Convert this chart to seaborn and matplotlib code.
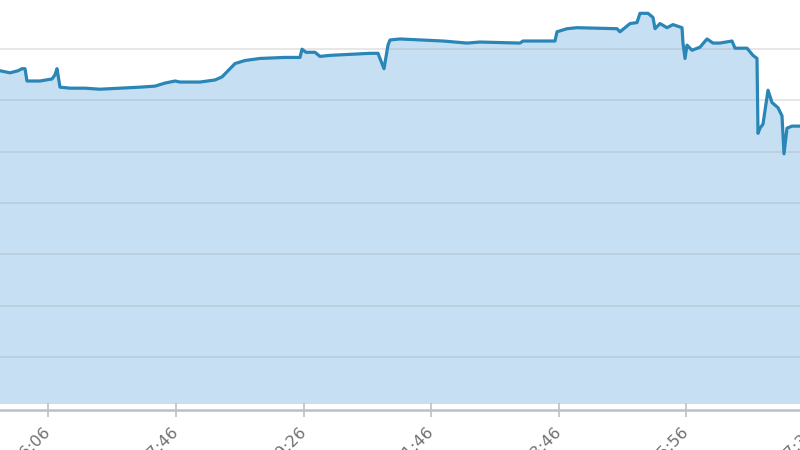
import matplotlib
matplotlib.use("Agg")
import matplotlib.pyplot as plt
import seaborn as sns
import pandas as pd

# sample index along the session
sample = [0, 10, 18, 22, 25, 27, 40, 52, 55, 57, 60, 70, 85, 100, 120, 140, 155, 165,
          175, 180, 200, 215, 222, 228, 235, 245, 260, 285, 300, 302, 306, 315, 320,
          330, 350, 370, 378, 380, 384, 388, 390, 400, 443, 467, 480, 520, 523, 555,
          557, 567, 577, 617, 620, 630, 637, 640, 648, 653, 655, 660, 667, 673, 682,
          683, 685, 687, 692, 700, 707, 713, 720, 732, 735, 747, 753, 757, 758, 760,
          763, 768, 772, 778, 782, 784, 787, 792, 800, 815]
price = [33.29, 33.27, 33.29, 33.31, 33.31, 33.19, 33.19, 33.21, 33.25, 33.31, 33.13,
         33.12, 33.12, 33.11, 33.12, 33.13, 33.14, 33.17, 33.19, 33.18, 33.18, 33.20,
         33.23, 33.29, 33.36, 33.39, 33.41, 33.42, 33.42, 33.50, 33.47, 33.47, 33.43,
         33.44, 33.45, 33.46, 33.46, 33.41, 33.31, 33.54, 33.59, 33.60, 33.58, 33.56,
         33.57, 33.56, 33.58, 33.58, 33.67, 33.70, 33.71, 33.70, 33.67, 33.75, 33.76,
         33.85, 33.85, 33.81, 33.70, 33.75, 33.71, 33.74, 33.71, 33.56, 33.41, 33.54,
         33.49, 33.52, 33.60, 33.56, 33.56, 33.58, 33.51, 33.51, 33.44, 33.41, 32.68,
         32.73, 32.77, 33.10, 32.98, 32.93, 32.85, 32.48, 32.73, 32.75, 32.75, 32.75]

tick_pos = [48, 176, 304, 431, 559, 686, 813]
tick_labels = ["10:06:06", "10:07:46", "10:09:26", "10:11:46", "10:13:46",
               "10:15:56", "10:17:36"]
grid_levels = [30.5, 31.0, 31.5, 32.0, 32.5, 33.0, 33.5]

df = pd.DataFrame({"sample": sample, "price": price})

sns.set_theme(style="white")
fig = plt.figure(figsize=(8, 4.5), dpi=100)
# the view runs slightly past the right edge of the picture
ax = fig.add_axes([0.0, 0.1022, 816 / 800, 0.8978])

# spines first (set_position resets ticks)
for s in ["left", "right", "top"]:
    ax.spines[s].set_visible(False)
ax.spines["bottom"].set_color("#c0c0c0")
ax.spines["bottom"].set_linewidth(1.8)
ax.spines["bottom"].set_position(("outward", 4))

line_color = "#2a86b6"
fill_color = "#c6dff2"

ax.fill_between(df["sample"], df["price"], 30.0, color=fill_color, linewidth=0, zorder=1)
sns.lineplot(data=df, x="sample", y="price", ax=ax, color=line_color, linewidth=2.3, zorder=3)

ax.set_yticks(grid_levels)
ax.set_yticklabels([])
ax.tick_params(axis="y", length=0, left=False)
ax.set_axisbelow(False)
ax.yaxis.grid(True, color="#a0a0a0", alpha=0.3, linewidth=1.2, zorder=2)

ax.set_xticks(tick_pos)
ax.set_xticklabels(tick_labels)
ax.tick_params(axis="x", bottom=True, direction="inout", length=10, width=1.2,
               color="#c0c0c0", pad=9, labelsize=11.5, labelcolor="#707070",
               labelrotation=45)
for lbl in ax.get_xticklabels():
    lbl.set_ha("right")
    lbl.set_va("center")
    lbl.set_rotation_mode("anchor")

ax.set_xlim(0, 816)
ax.set_ylim(30.04, 33.98)
for l in ax.get_ygridlines():
    l.set_zorder(2)

ax.set_xlabel("")
ax.set_ylabel("")

fig.savefig("out.png", dpi=100)
